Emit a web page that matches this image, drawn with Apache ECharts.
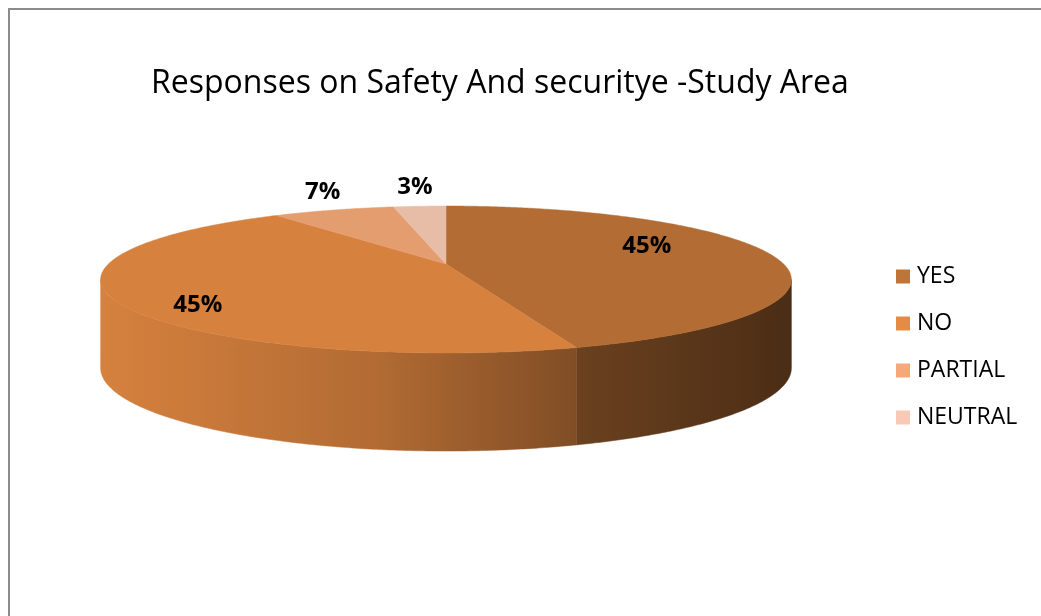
<!DOCTYPE html>
<html><head><meta charset="utf-8">
<script src="https://cdn.jsdelivr.net/npm/echarts@6/dist/echarts.min.js"></script>
<style>html,body{margin:0;padding:0;background:#fff}#c{width:1041px;height:616px}</style>
</head><body><div id="c"></div>
<script>
// ---- data ----
const categories = ['YES', 'NO', 'PARTIAL', 'NEUTRAL'];
const values = [45, 45, 7, 3];
const titleText = 'Responses on Safety And securitye -Study Area';

// ---- styles ----
const topColors = ['#b36c33', '#d6813e', '#e49d6e', '#e8bda8'];
const legendColors = ['#c07538', '#e68b43', '#f6a878', '#f8cab5'];
const labelNudge = [[-9, -11], [-32, 18], [0, 0], [0, 0]];

const chart = echarts.init(document.getElementById('c'));
const total = values.reduce((a, b) => a + b, 0);
const cum = []; let acc = 0; values.forEach(v => { cum.push(acc); acc += v; });

// 3D pie projection layout
const G = { cx: 446, cy: 264, R: 337.6, Ry: 70.2, k: 0.211, depth: 86.5, m: 0.5 };
function sc(th) { return 1 / (1 + G.k * Math.cos(th)); }
function proj(th, down, f) {
  f = f == null ? 1 : f;
  const s = sc(th);
  const x = G.cx + G.R * f * Math.sin(th) * s;
  let y = G.cy - G.Ry * f * Math.cos(th) * s;
  if (down) y += G.depth * (1 + G.m * (s - 1));
  return [x, y];
}
function arc(a0, a1, down) {
  const pts = []; const n = Math.max(2, Math.ceil(Math.abs(a1 - a0) / 0.01));
  for (let j = 0; j <= n; j++) pts.push(proj(a0 + (a1 - a0) * j / n, down));
  return pts;
}
function shade(hex, f) {
  const r = parseInt(hex.slice(1, 3), 16), g = parseInt(hex.slice(3, 5), 16), b = parseInt(hex.slice(5, 7), 16);
  const c = v => Math.max(0, Math.min(255, Math.round(v * f)));
  return 'rgb(' + c(r) + ',' + c(g) + ',' + c(b) + ')';
}
const frontA = Math.acos(-G.k), frontB = 2 * Math.PI - Math.acos(-G.k);
const xL = G.cx - G.R / Math.sqrt(1 - G.k * G.k), xR = G.cx + G.R / Math.sqrt(1 - G.k * G.k);
const wallStops = [[0, 1.0], [0.4, 0.83], [0.69, 0.6], [1, 0.42]];

function angles(i, v) {
  const a0 = cum[i] / total * 2 * Math.PI;
  return [a0, a0 + v / total * 2 * Math.PI];
}

function renderWall(params, api) {
  const i = params.dataIndex; const v = api.value(0);
  const [a0, a1] = angles(i, v);
  const s0 = Math.max(a0, frontA), s1 = Math.min(a1, frontB);
  if (s1 <= s0) return { type: 'group', children: [] };
  const pts = arc(s0, s1, false).concat(arc(s1, s0, true));
  const grad = new echarts.graphic.LinearGradient(xL, 0, xR, 0,
    wallStops.map(s => ({ offset: s[0], color: shade(topColors[i], s[1]) })), true);
  return { type: 'polygon', shape: { points: pts }, style: { fill: grad, stroke: grad, lineWidth: 0.5 } };
}

function renderTop(params, api) {
  const i = params.dataIndex; const v = api.value(0);
  const [a0, a1] = angles(i, v);
  const pts = [[G.cx, G.cy]].concat(arc(a0, a1, false));
  const mid = (a0 + a1) / 2;
  const pct = Math.round(v / total * 100) + '%';
  let lp;
  if (v / total < 0.1) {
    const p = proj(mid, false, 1);
    lp = [p[0] + 20 * Math.sin(mid) - 3, p[1] - 19 * Math.cos(mid)];
  } else {
    const p = proj(mid, false, 0.65);
    lp = [p[0] + labelNudge[i][0], p[1] + labelNudge[i][1]];
  }
  return {
    type: 'group', children: [
      { type: 'polygon', shape: { points: pts }, style: { fill: topColors[i], stroke: topColors[i], lineWidth: 0.5 } },
      { type: 'text', z2: 10, style: { x: lp[0], y: lp[1], text: pct, align: 'center', verticalAlign: 'middle',
        fill: '#000', font: 'bold 24px "Open Sans"' } }
    ]
  };
}

const seriesData = values.map((v, i) => ({ name: categories[i], value: v }));

chart.setOption({
  animation: false,
  title: { text: titleText, left: 146, top: 63,
    textStyle: { fontFamily: 'Open Sans', fontSize: 32, fontWeight: 'normal', color: '#000' } },
  legend: {
    orient: 'vertical', left: 896, top: 265, padding: 0, itemWidth: 14, itemHeight: 14, itemGap: 24, icon: 'rect',
    data: categories,
    textStyle: { fontFamily: 'Open Sans', fontSize: 23, color: '#000', lineHeight: 22, padding: [0, 0, 0, 2] }
  },
  graphic: [{ type: 'rect', shape: { x: 9, y: 9, width: 1100, height: 700 },
    style: { fill: 'none', stroke: '#8c8c8c', lineWidth: 2 }, silent: true }],
  series: [
    { type: 'custom', name: 'walls', coordinateSystem: 'none', renderItem: renderWall, data: seriesData, z: 1, silent: true },
    { type: 'custom', name: 'tops', coordinateSystem: 'none', renderItem: renderTop, data: seriesData, z: 2, silent: true },
    { type: 'pie', name: 'legendProxy', center: [-500, -500], radius: [0, 1], data: seriesData,
      color: legendColors, label: { show: false }, labelLine: { show: false }, silent: true }
  ]
});
</script></body></html>
